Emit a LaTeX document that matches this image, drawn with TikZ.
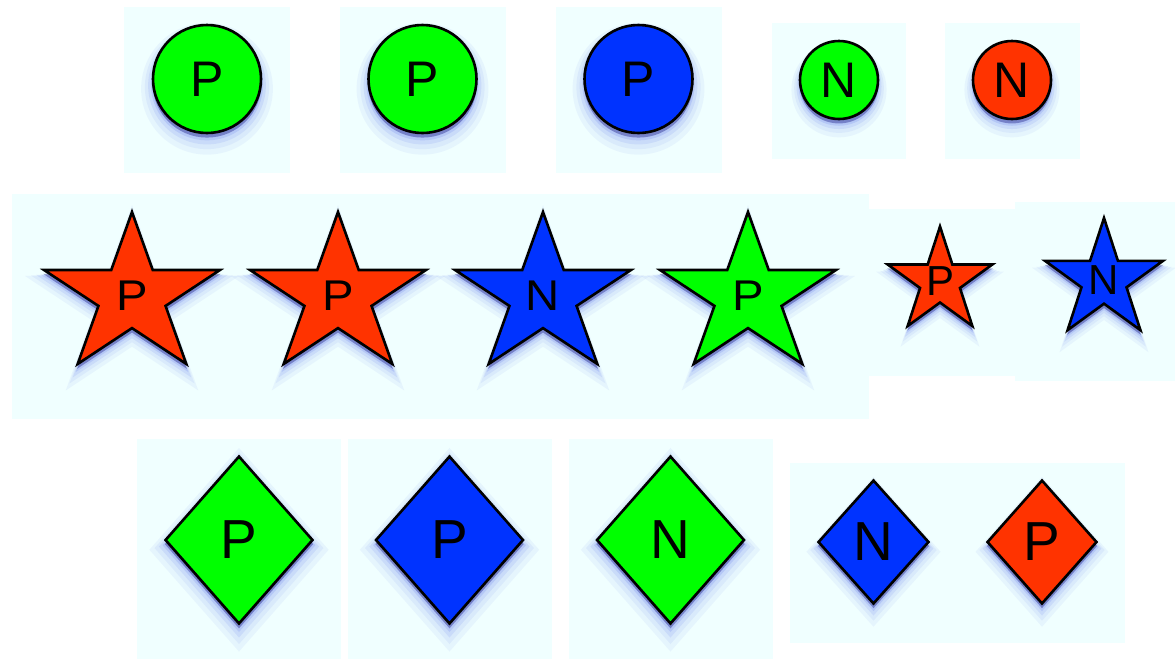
\documentclass[tikz,border=0pt]{standalone}
\usepackage{fontspec}
\setsansfont{Liberation Sans}
\usetikzlibrary{shapes.geometric,shadows}

\definecolor{tilebg}{RGB}{240,255,255}
\definecolor{pgreen}{RGB}{0,255,0}
\definecolor{pblue}{RGB}{0,51,255}
\definecolor{pred}{RGB}{255,51,0}
\definecolor{glowblue}{RGB}{40,70,230}

\tikzset{
  glow/.style={
    general shadow={fill=glowblue, opacity=.05, shadow scale=1.22, shadow yshift=-8pt},
    general shadow={fill=glowblue, opacity=.06, shadow scale=1.15, shadow yshift=-7pt},
    general shadow={fill=glowblue, opacity=.09, shadow scale=1.09, shadow yshift=-6pt},
    general shadow={fill=glowblue, opacity=.13, shadow scale=1.04, shadow yshift=-5pt},
    general shadow={fill=black!55!blue, opacity=.35, shadow scale=1.01, shadow yshift=-4pt}},
  shp/.style={draw=black, line width=2.6pt, inner sep=0pt, glow},
  circ/.style={shp, circle, minimum size=#1},
  starnode/.style={shp, star, star points=5, star point ratio=2.618, minimum size=#1},
  dia/.style={shp, diamond},
  txt/.style={font=\sffamily\fontsize{#1}{#1}\selectfont}
}

\begin{document}
\begin{tikzpicture}[x=1pt, y=-1pt]
\useasboundingbox (0,0) rectangle (1175,659);

% tiles behind the shapes
\foreach \xa/\ya/\xb/\yb in {124/7/290/173, 340/7/506/173, 556/7/722/173,
    772/23/906/159, 945/23/1080/159,
    12/194/869/419, 869/209/1015/376, 1015/202/1175/381,
    137/439/341/659, 348/439/552/659, 569/439/773/659,
    790/463/957/643, 957/463/1125/643}
  \fill[tilebg] (\xa,\ya) rectangle (\xb,\yb);

% circles
\node[circ=108, fill=pgreen, txt=50] (c1) at (207,79) {P};
\node[circ=108, fill=pgreen, txt=50] (c2) at (422.5,79) {P};
\node[circ=108, fill=pblue, txt=50] (c3) at (638.5,79) {P};
\node[circ=78, fill=pgreen, txt=50] (c4) at (839,80) {N};
\node[circ=78, fill=pred, txt=50] (c5) at (1012,80) {N};

% stars
\node[starnode=168, xscale=1.1, transform shape, fill=pred, txt=43] (s1) at (132,296) {P};
\node[starnode=168, xscale=1.1, transform shape, fill=pred, txt=43] (s2) at (338,296) {P};
\node[starnode=168, xscale=1.1, transform shape, fill=pblue, txt=43] (s3) at (543,296) {N};
\node[starnode=168, xscale=1.1, transform shape, fill=pgreen, txt=43] (s4) at (748,296) {P};
\node[starnode=110, fill=pred, txt=42] (s5) at (940,281.5) {P};
\node[starnode=124, fill=pblue, txt=42] (s6) at (1104,280) {N};

% diamonds
\node[dia, minimum width=148, minimum height=168, fill=pgreen, txt=55] (d1) at (239,540) {P};
\node[dia, minimum width=148, minimum height=168, fill=pblue, txt=55] (d2) at (449.5,540) {P};
\node[dia, minimum width=148, minimum height=168, fill=pgreen, txt=55] (d3) at (670.5,540) {N};
\node[dia, minimum width=111, minimum height=124, fill=pblue, txt=55] (d4) at (873.5,542) {N};
\node[dia, minimum width=110, minimum height=124, fill=pred, txt=55] (d5) at (1042,542) {P};
\end{tikzpicture}
\end{document}
